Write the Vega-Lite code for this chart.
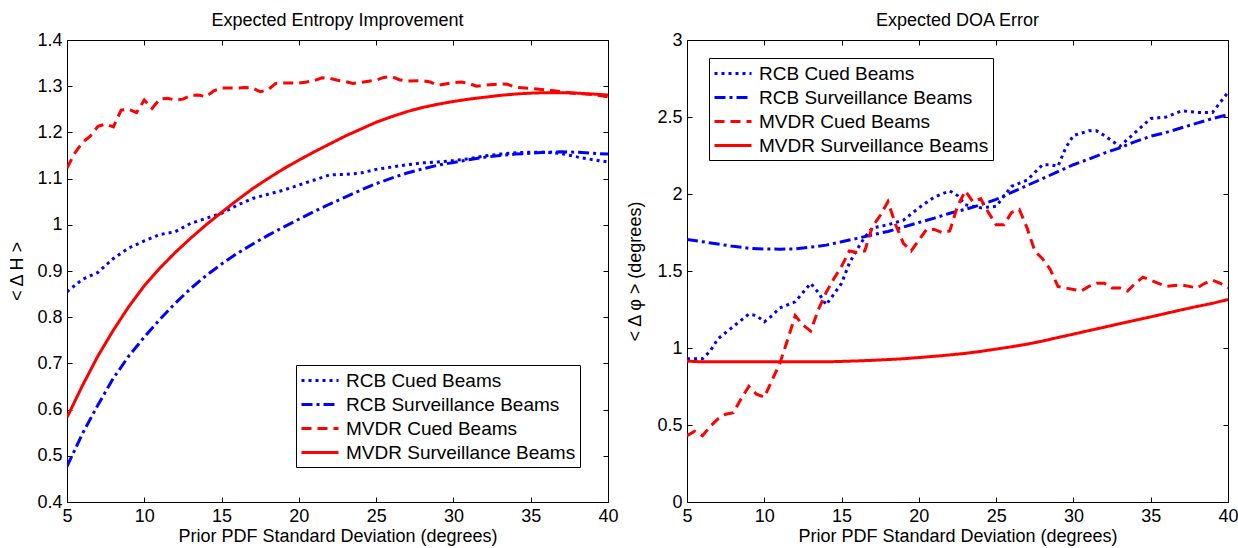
{
"$schema": "https://vega.github.io/schema/vega-lite/v6.json",
"background": "white",
"padding": {"left": 7, "top": 11, "right": 5, "bottom": 2},
"config": {
  "font": "Liberation Sans",
  "view": {"stroke": "#000", "strokeWidth": 1},
  "axis": {"labelFont": "Liberation Sans", "labelFontSize": 18, "labelColor": "#000", "titleFont": "Liberation Sans", "titleFontSize": 18, "titleFontWeight": "normal", "titleColor": "#000", "domain": false, "grid": false, "tickColor": "#000", "tickSize": -5, "labelPadding": 10, "labelFlush": false, "labelOverlap": false},
  "title": {"font": "Liberation Sans", "fontSize": 18, "fontWeight": "normal", "color": "#000", "offset": 1, "anchor": "middle"},
  "legend": {"labelFont": "Liberation Sans", "labelFontSize": 19, "labelColor": "#000", "labelLimit": 400, "symbolType": "M-1,0H2.7", "symbolStrokeWidth": 3, "symbolSize": 400, "strokeColor": "#000", "fillColor": "#fff", "padding": 4, "rowPadding": 2, "labelOffset": 23, "title": null}
},
"datasets": {
"ent": [
{"s":"RCB Cued Beams","x":5,"v":0.855},{"s":"RCB Cued Beams","x":6,"v":0.882},{"s":"RCB Cued Beams","x":7,"v":0.897},{"s":"RCB Cued Beams","x":8,"v":0.927},{"s":"RCB Cued Beams","x":9,"v":0.950},{"s":"RCB Cued Beams","x":10,"v":0.965},{"s":"RCB Cued Beams","x":11,"v":0.979},{"s":"RCB Cued Beams","x":12,"v":0.985},{"s":"RCB Cued Beams","x":13,"v":1.003},{"s":"RCB Cued Beams","x":14,"v":1.014},{"s":"RCB Cued Beams","x":15,"v":1.025},{"s":"RCB Cued Beams","x":16,"v":1.042},{"s":"RCB Cued Beams","x":17,"v":1.057},{"s":"RCB Cued Beams","x":18,"v":1.066},{"s":"RCB Cued Beams","x":19,"v":1.075},{"s":"RCB Cued Beams","x":20,"v":1.086},{"s":"RCB Cued Beams","x":21,"v":1.097},{"s":"RCB Cued Beams","x":22,"v":1.108},{"s":"RCB Cued Beams","x":23,"v":1.109},{"s":"RCB Cued Beams","x":24,"v":1.112},{"s":"RCB Cued Beams","x":25,"v":1.120},{"s":"RCB Cued Beams","x":26,"v":1.125},{"s":"RCB Cued Beams","x":27,"v":1.130},{"s":"RCB Cued Beams","x":28,"v":1.134},{"s":"RCB Cued Beams","x":29,"v":1.136},{"s":"RCB Cued Beams","x":30,"v":1.139},{"s":"RCB Cued Beams","x":31,"v":1.143},{"s":"RCB Cued Beams","x":32,"v":1.149},{"s":"RCB Cued Beams","x":33,"v":1.153},{"s":"RCB Cued Beams","x":34,"v":1.156},{"s":"RCB Cued Beams","x":35,"v":1.157},{"s":"RCB Cued Beams","x":36,"v":1.157},{"s":"RCB Cued Beams","x":37,"v":1.154},{"s":"RCB Cued Beams","x":38,"v":1.147},{"s":"RCB Cued Beams","x":39,"v":1.141},{"s":"RCB Cued Beams","x":40,"v":1.136},
{"s":"RCB Surveillance Beams","x":5,"v":0.477},{"s":"RCB Surveillance Beams","x":6,"v":0.548},{"s":"RCB Surveillance Beams","x":7,"v":0.610},{"s":"RCB Surveillance Beams","x":8,"v":0.668},{"s":"RCB Surveillance Beams","x":9,"v":0.716},{"s":"RCB Surveillance Beams","x":10,"v":0.757},{"s":"RCB Surveillance Beams","x":11,"v":0.795},{"s":"RCB Surveillance Beams","x":12,"v":0.830},{"s":"RCB Surveillance Beams","x":13,"v":0.862},{"s":"RCB Surveillance Beams","x":14,"v":0.890},{"s":"RCB Surveillance Beams","x":15,"v":0.915},{"s":"RCB Surveillance Beams","x":16,"v":0.938},{"s":"RCB Surveillance Beams","x":17,"v":0.958},{"s":"RCB Surveillance Beams","x":18,"v":0.977},{"s":"RCB Surveillance Beams","x":19,"v":0.995},{"s":"RCB Surveillance Beams","x":20,"v":1.012},{"s":"RCB Surveillance Beams","x":21,"v":1.029},{"s":"RCB Surveillance Beams","x":22,"v":1.045},{"s":"RCB Surveillance Beams","x":23,"v":1.060},{"s":"RCB Surveillance Beams","x":24,"v":1.075},{"s":"RCB Surveillance Beams","x":25,"v":1.089},{"s":"RCB Surveillance Beams","x":26,"v":1.101},{"s":"RCB Surveillance Beams","x":27,"v":1.112},{"s":"RCB Surveillance Beams","x":28,"v":1.121},{"s":"RCB Surveillance Beams","x":29,"v":1.129},{"s":"RCB Surveillance Beams","x":30,"v":1.135},{"s":"RCB Surveillance Beams","x":31,"v":1.141},{"s":"RCB Surveillance Beams","x":32,"v":1.146},{"s":"RCB Surveillance Beams","x":33,"v":1.150},{"s":"RCB Surveillance Beams","x":34,"v":1.153},{"s":"RCB Surveillance Beams","x":35,"v":1.155},{"s":"RCB Surveillance Beams","x":36,"v":1.157},{"s":"RCB Surveillance Beams","x":37,"v":1.158},{"s":"RCB Surveillance Beams","x":38,"v":1.157},{"s":"RCB Surveillance Beams","x":39,"v":1.155},{"s":"RCB Surveillance Beams","x":40,"v":1.153},
{"s":"MVDR Cued Beams","x":5,"v":1.123},{"s":"MVDR Cued Beams","x":5.5,"v":1.155},{"s":"MVDR Cued Beams","x":6,"v":1.178},{"s":"MVDR Cued Beams","x":6.5,"v":1.192},{"s":"MVDR Cued Beams","x":7,"v":1.213},{"s":"MVDR Cued Beams","x":7.5,"v":1.218},{"s":"MVDR Cued Beams","x":8,"v":1.212},{"s":"MVDR Cued Beams","x":8.5,"v":1.248},{"s":"MVDR Cued Beams","x":9,"v":1.250},{"s":"MVDR Cued Beams","x":9.5,"v":1.243},{"s":"MVDR Cued Beams","x":10,"v":1.270},{"s":"MVDR Cued Beams","x":10.5,"v":1.252},{"s":"MVDR Cued Beams","x":11,"v":1.272},{"s":"MVDR Cued Beams","x":11.5,"v":1.274},{"s":"MVDR Cued Beams","x":12,"v":1.270},{"s":"MVDR Cued Beams","x":12.5,"v":1.272},{"s":"MVDR Cued Beams","x":13,"v":1.280},{"s":"MVDR Cued Beams","x":13.5,"v":1.281},{"s":"MVDR Cued Beams","x":14,"v":1.277},{"s":"MVDR Cued Beams","x":14.5,"v":1.290},{"s":"MVDR Cued Beams","x":15,"v":1.296},{"s":"MVDR Cued Beams","x":15.5,"v":1.296},{"s":"MVDR Cued Beams","x":16,"v":1.296},{"s":"MVDR Cued Beams","x":16.5,"v":1.297},{"s":"MVDR Cued Beams","x":17,"v":1.296},{"s":"MVDR Cued Beams","x":17.5,"v":1.288},{"s":"MVDR Cued Beams","x":18,"v":1.292},{"s":"MVDR Cued Beams","x":18.5,"v":1.306},{"s":"MVDR Cued Beams","x":19,"v":1.307},{"s":"MVDR Cued Beams","x":20,"v":1.307},{"s":"MVDR Cued Beams","x":20.5,"v":1.309},{"s":"MVDR Cued Beams","x":21,"v":1.312},{"s":"MVDR Cued Beams","x":21.5,"v":1.318},{"s":"MVDR Cued Beams","x":22,"v":1.317},{"s":"MVDR Cued Beams","x":22.5,"v":1.313},{"s":"MVDR Cued Beams","x":23,"v":1.310},{"s":"MVDR Cued Beams","x":23.5,"v":1.306},{"s":"MVDR Cued Beams","x":24,"v":1.308},{"s":"MVDR Cued Beams","x":25,"v":1.313},{"s":"MVDR Cued Beams","x":25.5,"v":1.319},{"s":"MVDR Cued Beams","x":26,"v":1.321},{"s":"MVDR Cued Beams","x":26.5,"v":1.314},{"s":"MVDR Cued Beams","x":27,"v":1.311},{"s":"MVDR Cued Beams","x":28,"v":1.312},{"s":"MVDR Cued Beams","x":28.5,"v":1.309},{"s":"MVDR Cued Beams","x":29,"v":1.302},{"s":"MVDR Cued Beams","x":30,"v":1.308},{"s":"MVDR Cued Beams","x":30.5,"v":1.309},{"s":"MVDR Cued Beams","x":31,"v":1.306},{"s":"MVDR Cued Beams","x":31.5,"v":1.300},{"s":"MVDR Cued Beams","x":32,"v":1.302},{"s":"MVDR Cued Beams","x":33,"v":1.305},{"s":"MVDR Cued Beams","x":33.5,"v":1.304},{"s":"MVDR Cued Beams","x":34,"v":1.298},{"s":"MVDR Cued Beams","x":35,"v":1.295},{"s":"MVDR Cued Beams","x":36,"v":1.292},{"s":"MVDR Cued Beams","x":37,"v":1.288},{"s":"MVDR Cued Beams","x":38,"v":1.284},{"s":"MVDR Cued Beams","x":39,"v":1.282},{"s":"MVDR Cued Beams","x":40,"v":1.277},
{"s":"MVDR Surveillance Beams","x":5,"v":0.583},{"s":"MVDR Surveillance Beams","x":6,"v":0.652},{"s":"MVDR Surveillance Beams","x":7,"v":0.716},{"s":"MVDR Surveillance Beams","x":8,"v":0.772},{"s":"MVDR Surveillance Beams","x":9,"v":0.823},{"s":"MVDR Surveillance Beams","x":10,"v":0.868},{"s":"MVDR Surveillance Beams","x":11,"v":0.906},{"s":"MVDR Surveillance Beams","x":12,"v":0.940},{"s":"MVDR Surveillance Beams","x":13,"v":0.971},{"s":"MVDR Surveillance Beams","x":14,"v":1.000},{"s":"MVDR Surveillance Beams","x":15,"v":1.027},{"s":"MVDR Surveillance Beams","x":16,"v":1.053},{"s":"MVDR Surveillance Beams","x":17,"v":1.078},{"s":"MVDR Surveillance Beams","x":18,"v":1.100},{"s":"MVDR Surveillance Beams","x":19,"v":1.121},{"s":"MVDR Surveillance Beams","x":20,"v":1.140},{"s":"MVDR Surveillance Beams","x":21,"v":1.158},{"s":"MVDR Surveillance Beams","x":22,"v":1.175},{"s":"MVDR Surveillance Beams","x":23,"v":1.192},{"s":"MVDR Surveillance Beams","x":24,"v":1.207},{"s":"MVDR Surveillance Beams","x":25,"v":1.222},{"s":"MVDR Surveillance Beams","x":26,"v":1.234},{"s":"MVDR Surveillance Beams","x":27,"v":1.245},{"s":"MVDR Surveillance Beams","x":28,"v":1.254},{"s":"MVDR Surveillance Beams","x":29,"v":1.261},{"s":"MVDR Surveillance Beams","x":30,"v":1.267},{"s":"MVDR Surveillance Beams","x":31,"v":1.272},{"s":"MVDR Surveillance Beams","x":32,"v":1.276},{"s":"MVDR Surveillance Beams","x":33,"v":1.280},{"s":"MVDR Surveillance Beams","x":34,"v":1.283},{"s":"MVDR Surveillance Beams","x":35,"v":1.285},{"s":"MVDR Surveillance Beams","x":36,"v":1.286},{"s":"MVDR Surveillance Beams","x":37,"v":1.286},{"s":"MVDR Surveillance Beams","x":38,"v":1.285},{"s":"MVDR Surveillance Beams","x":39,"v":1.283},{"s":"MVDR Surveillance Beams","x":40,"v":1.281}
],
"doa": [
{"s":"RCB Cued Beams","x":5,"v":0.93},{"s":"RCB Cued Beams","x":6,"v":0.93},{"s":"RCB Cued Beams","x":6.5,"v":0.98},{"s":"RCB Cued Beams","x":7,"v":1.06},{"s":"RCB Cued Beams","x":8,"v":1.14},{"s":"RCB Cued Beams","x":9,"v":1.22},{"s":"RCB Cued Beams","x":9.5,"v":1.21},{"s":"RCB Cued Beams","x":10,"v":1.17},{"s":"RCB Cued Beams","x":10.5,"v":1.21},{"s":"RCB Cued Beams","x":11,"v":1.26},{"s":"RCB Cued Beams","x":12,"v":1.30},{"s":"RCB Cued Beams","x":12.5,"v":1.36},{"s":"RCB Cued Beams","x":13,"v":1.42},{"s":"RCB Cued Beams","x":13.5,"v":1.36},{"s":"RCB Cued Beams","x":14,"v":1.28},{"s":"RCB Cued Beams","x":14.5,"v":1.35},{"s":"RCB Cued Beams","x":15,"v":1.42},{"s":"RCB Cued Beams","x":15.5,"v":1.55},{"s":"RCB Cued Beams","x":16,"v":1.64},{"s":"RCB Cued Beams","x":16.5,"v":1.72},{"s":"RCB Cued Beams","x":17,"v":1.78},{"s":"RCB Cued Beams","x":18,"v":1.80},{"s":"RCB Cued Beams","x":19,"v":1.83},{"s":"RCB Cued Beams","x":20,"v":1.91},{"s":"RCB Cued Beams","x":21,"v":1.98},{"s":"RCB Cued Beams","x":22,"v":2.02},{"s":"RCB Cued Beams","x":22.5,"v":1.99},{"s":"RCB Cued Beams","x":23,"v":1.93},{"s":"RCB Cued Beams","x":24,"v":1.91},{"s":"RCB Cued Beams","x":25,"v":1.92},{"s":"RCB Cued Beams","x":26,"v":2.05},{"s":"RCB Cued Beams","x":27,"v":2.09},{"s":"RCB Cued Beams","x":28,"v":2.19},{"s":"RCB Cued Beams","x":28.5,"v":2.19},{"s":"RCB Cued Beams","x":29,"v":2.18},{"s":"RCB Cued Beams","x":29.5,"v":2.30},{"s":"RCB Cued Beams","x":30,"v":2.38},{"s":"RCB Cued Beams","x":31,"v":2.41},{"s":"RCB Cued Beams","x":31.5,"v":2.41},{"s":"RCB Cued Beams","x":32,"v":2.38},{"s":"RCB Cued Beams","x":33,"v":2.31},{"s":"RCB Cued Beams","x":34,"v":2.40},{"s":"RCB Cued Beams","x":35,"v":2.49},{"s":"RCB Cued Beams","x":36,"v":2.50},{"s":"RCB Cued Beams","x":37,"v":2.54},{"s":"RCB Cued Beams","x":38,"v":2.53},{"s":"RCB Cued Beams","x":39,"v":2.53},{"s":"RCB Cued Beams","x":40,"v":2.66},
{"s":"RCB Surveillance Beams","x":5,"v":1.705},{"s":"RCB Surveillance Beams","x":6,"v":1.69},{"s":"RCB Surveillance Beams","x":7,"v":1.675},{"s":"RCB Surveillance Beams","x":8,"v":1.66},{"s":"RCB Surveillance Beams","x":9,"v":1.648},{"s":"RCB Surveillance Beams","x":10,"v":1.643},{"s":"RCB Surveillance Beams","x":11,"v":1.642},{"s":"RCB Surveillance Beams","x":12,"v":1.643},{"s":"RCB Surveillance Beams","x":13,"v":1.655},{"s":"RCB Surveillance Beams","x":14,"v":1.668},{"s":"RCB Surveillance Beams","x":15,"v":1.69},{"s":"RCB Surveillance Beams","x":16,"v":1.712},{"s":"RCB Surveillance Beams","x":17,"v":1.735},{"s":"RCB Surveillance Beams","x":18,"v":1.757},{"s":"RCB Surveillance Beams","x":19,"v":1.785},{"s":"RCB Surveillance Beams","x":20,"v":1.815},{"s":"RCB Surveillance Beams","x":21,"v":1.843},{"s":"RCB Surveillance Beams","x":22,"v":1.875},{"s":"RCB Surveillance Beams","x":23,"v":1.90},{"s":"RCB Surveillance Beams","x":24,"v":1.93},{"s":"RCB Surveillance Beams","x":25,"v":1.965},{"s":"RCB Surveillance Beams","x":26,"v":2.01},{"s":"RCB Surveillance Beams","x":27,"v":2.055},{"s":"RCB Surveillance Beams","x":28,"v":2.10},{"s":"RCB Surveillance Beams","x":29,"v":2.145},{"s":"RCB Surveillance Beams","x":30,"v":2.19},{"s":"RCB Surveillance Beams","x":31,"v":2.227},{"s":"RCB Surveillance Beams","x":32,"v":2.266},{"s":"RCB Surveillance Beams","x":33,"v":2.30},{"s":"RCB Surveillance Beams","x":34,"v":2.34},{"s":"RCB Surveillance Beams","x":35,"v":2.375},{"s":"RCB Surveillance Beams","x":36,"v":2.40},{"s":"RCB Surveillance Beams","x":37,"v":2.43},{"s":"RCB Surveillance Beams","x":38,"v":2.46},{"s":"RCB Surveillance Beams","x":39,"v":2.49},{"s":"RCB Surveillance Beams","x":40,"v":2.516},
{"s":"MVDR Cued Beams","x":5,"v":0.43},{"s":"MVDR Cued Beams","x":5.5,"v":0.46},{"s":"MVDR Cued Beams","x":6,"v":0.43},{"s":"MVDR Cued Beams","x":6.5,"v":0.49},{"s":"MVDR Cued Beams","x":7,"v":0.54},{"s":"MVDR Cued Beams","x":7.5,"v":0.57},{"s":"MVDR Cued Beams","x":8,"v":0.58},{"s":"MVDR Cued Beams","x":8.5,"v":0.67},{"s":"MVDR Cued Beams","x":9,"v":0.75},{"s":"MVDR Cued Beams","x":9.5,"v":0.70},{"s":"MVDR Cued Beams","x":10,"v":0.68},{"s":"MVDR Cued Beams","x":10.5,"v":0.79},{"s":"MVDR Cued Beams","x":11,"v":0.90},{"s":"MVDR Cued Beams","x":11.5,"v":1.05},{"s":"MVDR Cued Beams","x":12,"v":1.21},{"s":"MVDR Cued Beams","x":12.5,"v":1.15},{"s":"MVDR Cued Beams","x":13,"v":1.11},{"s":"MVDR Cued Beams","x":13.5,"v":1.25},{"s":"MVDR Cued Beams","x":14,"v":1.36},{"s":"MVDR Cued Beams","x":14.5,"v":1.45},{"s":"MVDR Cued Beams","x":15,"v":1.53},{"s":"MVDR Cued Beams","x":15.5,"v":1.63},{"s":"MVDR Cued Beams","x":16,"v":1.62},{"s":"MVDR Cued Beams","x":16.5,"v":1.63},{"s":"MVDR Cued Beams","x":17,"v":1.79},{"s":"MVDR Cued Beams","x":17.5,"v":1.86},{"s":"MVDR Cued Beams","x":18,"v":1.95},{"s":"MVDR Cued Beams","x":18.5,"v":1.80},{"s":"MVDR Cued Beams","x":19,"v":1.68},{"s":"MVDR Cued Beams","x":19.5,"v":1.63},{"s":"MVDR Cued Beams","x":20,"v":1.70},{"s":"MVDR Cued Beams","x":20.5,"v":1.77},{"s":"MVDR Cued Beams","x":21,"v":1.77},{"s":"MVDR Cued Beams","x":21.5,"v":1.75},{"s":"MVDR Cued Beams","x":22,"v":1.76},{"s":"MVDR Cued Beams","x":22.5,"v":1.92},{"s":"MVDR Cued Beams","x":23,"v":2.02},{"s":"MVDR Cued Beams","x":23.5,"v":1.95},{"s":"MVDR Cued Beams","x":24,"v":1.97},{"s":"MVDR Cued Beams","x":24.5,"v":1.88},{"s":"MVDR Cued Beams","x":25,"v":1.80},{"s":"MVDR Cued Beams","x":25.5,"v":1.80},{"s":"MVDR Cued Beams","x":26,"v":1.88},{"s":"MVDR Cued Beams","x":26.5,"v":1.90},{"s":"MVDR Cued Beams","x":27,"v":1.78},{"s":"MVDR Cued Beams","x":27.5,"v":1.63},{"s":"MVDR Cued Beams","x":28,"v":1.58},{"s":"MVDR Cued Beams","x":28.5,"v":1.51},{"s":"MVDR Cued Beams","x":29,"v":1.40},{"s":"MVDR Cued Beams","x":29.5,"v":1.39},{"s":"MVDR Cued Beams","x":30,"v":1.38},{"s":"MVDR Cued Beams","x":30.5,"v":1.37},{"s":"MVDR Cued Beams","x":31,"v":1.40},{"s":"MVDR Cued Beams","x":31.5,"v":1.42},{"s":"MVDR Cued Beams","x":32,"v":1.42},{"s":"MVDR Cued Beams","x":32.5,"v":1.39},{"s":"MVDR Cued Beams","x":33,"v":1.39},{"s":"MVDR Cued Beams","x":33.5,"v":1.37},{"s":"MVDR Cued Beams","x":34,"v":1.42},{"s":"MVDR Cued Beams","x":34.5,"v":1.46},{"s":"MVDR Cued Beams","x":35,"v":1.44},{"s":"MVDR Cued Beams","x":35.5,"v":1.42},{"s":"MVDR Cued Beams","x":36,"v":1.40},{"s":"MVDR Cued Beams","x":37,"v":1.41},{"s":"MVDR Cued Beams","x":38,"v":1.39},{"s":"MVDR Cued Beams","x":38.5,"v":1.42},{"s":"MVDR Cued Beams","x":39,"v":1.44},{"s":"MVDR Cued Beams","x":39.5,"v":1.42},{"s":"MVDR Cued Beams","x":40,"v":1.39},
{"s":"MVDR Surveillance Beams","x":5,"v":0.915},{"s":"MVDR Surveillance Beams","x":6,"v":0.91},{"s":"MVDR Surveillance Beams","x":8,"v":0.91},{"s":"MVDR Surveillance Beams","x":10,"v":0.91},{"s":"MVDR Surveillance Beams","x":12,"v":0.91},{"s":"MVDR Surveillance Beams","x":14,"v":0.91},{"s":"MVDR Surveillance Beams","x":15,"v":0.913},{"s":"MVDR Surveillance Beams","x":16,"v":0.916},{"s":"MVDR Surveillance Beams","x":17,"v":0.92},{"s":"MVDR Surveillance Beams","x":18,"v":0.925},{"s":"MVDR Surveillance Beams","x":19,"v":0.93},{"s":"MVDR Surveillance Beams","x":20,"v":0.938},{"s":"MVDR Surveillance Beams","x":21,"v":0.946},{"s":"MVDR Surveillance Beams","x":22,"v":0.955},{"s":"MVDR Surveillance Beams","x":23,"v":0.965},{"s":"MVDR Surveillance Beams","x":24,"v":0.978},{"s":"MVDR Surveillance Beams","x":25,"v":0.993},{"s":"MVDR Surveillance Beams","x":26,"v":1.008},{"s":"MVDR Surveillance Beams","x":27,"v":1.025},{"s":"MVDR Surveillance Beams","x":28,"v":1.045},{"s":"MVDR Surveillance Beams","x":29,"v":1.068},{"s":"MVDR Surveillance Beams","x":30,"v":1.09},{"s":"MVDR Surveillance Beams","x":31,"v":1.113},{"s":"MVDR Surveillance Beams","x":32,"v":1.135},{"s":"MVDR Surveillance Beams","x":33,"v":1.158},{"s":"MVDR Surveillance Beams","x":34,"v":1.18},{"s":"MVDR Surveillance Beams","x":35,"v":1.202},{"s":"MVDR Surveillance Beams","x":36,"v":1.225},{"s":"MVDR Surveillance Beams","x":37,"v":1.248},{"s":"MVDR Surveillance Beams","x":38,"v":1.27},{"s":"MVDR Surveillance Beams","x":39,"v":1.29},{"s":"MVDR Surveillance Beams","x":40,"v":1.315}
]
},
"spacing": 6,
"resolve": {"scale": {"color": "independent", "strokeDash": "independent"}, "legend": {"color": "independent", "strokeDash": "independent"}},
"hconcat": [
{
  "title": "Expected Entropy Improvement",
  "width": 541, "height": 462,
  "data": {"name": "ent"},
  "resolve": {"axis": {"x": "independent", "y": "independent"}},
  "layer": [
    {
      "transform": [{"filter": {"field": "s", "oneOf": ["RCB Cued Beams", "RCB Surveillance Beams"]}}],
      "mark": {"type": "line", "strokeWidth": 3, "clip": true},
      "encoding": {
        "x": {"field": "x", "type": "quantitative", "scale": {"domain": [5, 40], "nice": false, "zero": false}, "axis": {"orient": "bottom", "values": [5,10,15,20,25,30,35,40], "title": "Prior PDF Standard Deviation (degrees)", "titlePadding": 2}},
        "y": {"field": "v", "type": "quantitative", "scale": {"domain": [0.4, 1.4], "nice": false, "zero": false}, "axis": {"orient": "left", "values": [0.4,0.5,0.6,0.7,0.8,0.9,1,1.1,1.2,1.3,1.4], "format": ".1~f", "title": "< Δ H >", "minExtent": 30, "maxExtent": 30, "titlePadding": 11}},
        "color": {"field": "s", "type": "nominal", "scale": {"domain": ["RCB Cued Beams", "RCB Surveillance Beams", "MVDR Cued Beams", "MVDR Surveillance Beams"], "range": ["#0000ff", "#0000ff", "#ff0000", "#ff0000"]}, "legend": {"orient": "none", "legendX": 229, "legendY": 325}},
        "strokeDash": {"field": "s", "type": "nominal", "scale": {"domain": ["RCB Cued Beams", "RCB Surveillance Beams", "MVDR Cued Beams", "MVDR Surveillance Beams"], "range": [[3, 4], [11, 4, 3, 4], [10, 6], [1, 0]]}, "legend": {"orient": "none", "legendX": 229, "legendY": 325}}
      }
    },
    {
      "transform": [{"filter": {"field": "s", "oneOf": ["MVDR Cued Beams", "MVDR Surveillance Beams"]}}],
      "mark": {"type": "line", "strokeWidth": 3, "clip": true},
      "encoding": {
        "x": {"field": "x", "type": "quantitative", "axis": {"orient": "top", "values": [5,10,15,20,25,30,35,40], "labels": false, "title": null}},
        "y": {"field": "v", "type": "quantitative", "axis": {"orient": "right", "values": [0.4,0.5,0.6,0.7,0.8,0.9,1,1.1,1.2,1.3,1.4], "labels": false, "title": null, "minExtent": 0, "maxExtent": 0}},
        "color": {"field": "s", "type": "nominal", "legend": {"orient": "none", "legendX": 229, "legendY": 325}},
        "strokeDash": {"field": "s", "type": "nominal", "legend": {"orient": "none", "legendX": 229, "legendY": 325}}
      }
    }
  ]
},
{
  "title": "Expected DOA Error",
  "width": 541, "height": 462,
  "data": {"name": "doa"},
  "resolve": {"axis": {"x": "independent", "y": "independent"}},
  "layer": [
    {
      "transform": [{"filter": {"field": "s", "oneOf": ["RCB Cued Beams", "RCB Surveillance Beams"]}}],
      "mark": {"type": "line", "strokeWidth": 3, "clip": true},
      "encoding": {
        "x": {"field": "x", "type": "quantitative", "scale": {"domain": [5, 40], "nice": false, "zero": false}, "axis": {"orient": "bottom", "values": [5,10,15,20,25,30,35,40], "title": "Prior PDF Standard Deviation (degrees)", "titlePadding": 2}},
        "y": {"field": "v", "type": "quantitative", "scale": {"domain": [0, 3], "nice": false, "zero": false}, "axis": {"orient": "left", "values": [0,0.5,1,1.5,2,2.5,3], "format": ".1~f", "title": "< Δ φ > (degrees)", "minExtent": 30, "maxExtent": 30, "titlePadding": 13}},
        "color": {"field": "s", "type": "nominal", "scale": {"domain": ["RCB Cued Beams", "RCB Surveillance Beams", "MVDR Cued Beams", "MVDR Surveillance Beams"], "range": ["#0000ff", "#0000ff", "#ff0000", "#ff0000"]}, "legend": {"orient": "none", "legendX": 22, "legendY": 18}},
        "strokeDash": {"field": "s", "type": "nominal", "scale": {"domain": ["RCB Cued Beams", "RCB Surveillance Beams", "MVDR Cued Beams", "MVDR Surveillance Beams"], "range": [[3, 4], [11, 4, 3, 4], [10, 6], [1, 0]]}, "legend": {"orient": "none", "legendX": 22, "legendY": 18}}
      }
    },
    {
      "transform": [{"filter": {"field": "s", "oneOf": ["MVDR Cued Beams", "MVDR Surveillance Beams"]}}],
      "mark": {"type": "line", "strokeWidth": 3, "clip": true},
      "encoding": {
        "x": {"field": "x", "type": "quantitative", "axis": {"orient": "top", "values": [5,10,15,20,25,30,35,40], "labels": false, "title": null}},
        "y": {"field": "v", "type": "quantitative", "axis": {"orient": "right", "values": [0,0.5,1,1.5,2,2.5,3], "labels": false, "title": null, "minExtent": 0, "maxExtent": 0}},
        "color": {"field": "s", "type": "nominal", "legend": {"orient": "none", "legendX": 22, "legendY": 18}},
        "strokeDash": {"field": "s", "type": "nominal", "legend": {"orient": "none", "legendX": 22, "legendY": 18}}
      }
    }
  ]
}
]
}
